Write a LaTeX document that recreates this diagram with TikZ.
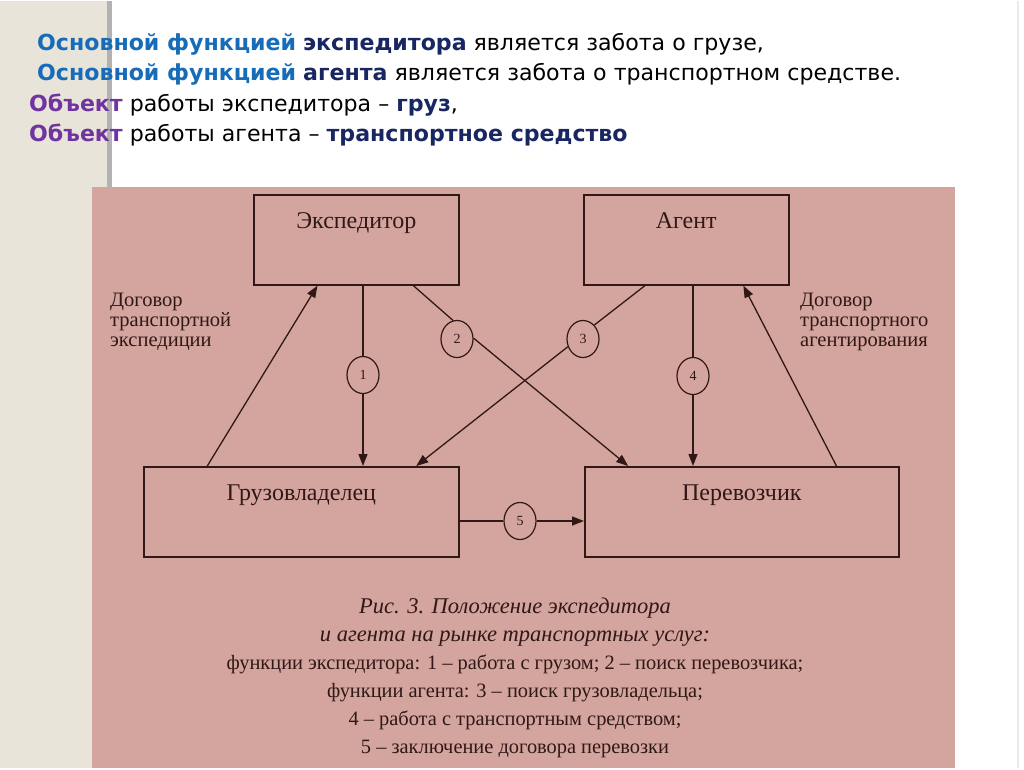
\documentclass[tikz,border=0pt]{standalone}
\usepackage{fontspec}
\setmainfont{Liberation Serif}
\newfontfamily\slidefont{DejaVu Sans}
\usetikzlibrary{arrows.meta,calc,positioning,shapes.geometric}
\definecolor{slidepink}{RGB}{212,165,158}
\definecolor{slidebeige}{RGB}{233,228,217}
\definecolor{funcblue}{RGB}{22,108,184}
\definecolor{navy}{RGB}{24,38,98}
\definecolor{objpurple}{RGB}{112,52,160}
\definecolor{ink}{RGB}{48,24,22}
\newcommand{\fblue}[1]{\textbf{\textcolor{funcblue}{#1}}}
\newcommand{\fnavy}[1]{\textbf{\textcolor{navy}{#1}}}
\newcommand{\fobj}[1]{\textbf{\textcolor{objpurple}{#1}}}

\begin{document}
\begin{tikzpicture}[x=1pt, y=-1pt,
    party/.style={draw=ink, line width=1.6pt, anchor=north west, inner sep=0pt,
        text=ink, text height=34pt, text depth=56pt, font=\fontsize{24}{24}\selectfont},
    num/.style={ellipse, draw=ink, line width=1.2pt, inner sep=0pt,
        minimum width=32pt, minimum height=37pt, text=ink, font=\fontsize{14}{14}\selectfont},
    link/.style={draw=ink, line width=1.3pt},
    arr/.style={link, -{Triangle[length=12pt, width=9pt]}},
    contract/.style={anchor=north west, align=left, inner sep=0pt, text=ink,
        font=\fontsize{20.5}{20}\selectfont},
    slide/.style={anchor=base west, inner sep=0pt, font=\slidefont\fontsize{22.1}{22.1}\selectfont}]
    % slide background
    \fill[white] (0,0) rectangle (1024,767);
    \fill[slidebeige] (0,0) rectangle (107,767);
    \fill[black!30] (107,0) rectangle (112,767);
    \draw[black!8, line width=2pt] (1018,0) -- (1018,767);
    \fill[slidepink] (92,186) rectangle (955,767);

    % slide text
    \node[slide] (l1) at (37,49) {\fblue{Основной функцией} \fnavy{экспедитора} является забота о грузе,};
    \node[slide] (l2) at (37,79) {\fblue{Основной функцией} \fnavy{агента} является забота о транспортном средстве.};
    \node[slide] (l3) at (29,110) {\fobj{Объект} работы экспедитора – \fnavy{груз},};
    \node[slide] (l4) at (29,140) {\fobj{Объект} работы агента – \fnavy{транспортное средство}};

    % parties
    \node[party, minimum width=205pt] (exp) at (253,193) {Экспедитор};
    \node[party, minimum width=205pt] (agent) at (583,193) {Агент};
    \node[party, minimum width=315pt] (owner) at (143,465) {Грузовладелец};
    \node[party, minimum width=314pt] (carrier) at (584,465) {Перевозчик};

    % functions
    \node[num] (n1) at (363,374) {1};
    \node[num] (n2) at (457,338) {2};
    \node[num] (n3) at (583,338) {3};
    \node[num] (n4) at (693,375) {4};
    \node[num] (n5) at (520,520) {5};

    \draw[link] (exp.south -| n1) -- (n1);
    \draw[arr] (n1) -- (owner.north -| n1);
    \draw[link] ($(exp.south west)!.776!(exp.south east)$) -- (n2.102);
    \draw[arr] (n2.3) -- ($(carrier.north west)!.14!(carrier.north east)$);
    \draw[link] ($(agent.south west)!.30!(agent.south east)$) -- (n3.51);
    \draw[arr] (n3.207) -- ($(owner.north west)!.863!(owner.north east)$);
    \draw[link] (agent.south -| n4) -- (n4);
    \draw[arr] (n4) -- (carrier.north -| n4);
    \draw[link] (owner.east |- n5) -- (n5);
    \draw[arr] (n5) -- (carrier.west |- n5);

    % contracts
    \draw[arr] ($(owner.north west)!.203!(owner.north east)$) -- ($(exp.south west)!.312!(exp.south east)$);
    \draw[arr] ($(carrier.north west)!.80!(carrier.north east)$) -- ($(agent.south west)!.776!(agent.south east)$);
    \node[contract] (contract1) at (110,292) {Договор\\транспортной\\экспедиции};
    \node[contract] (contract2) at (800,292) {Договор\\транспортного\\агентирования};

    % caption
    \node[anchor=north, align=center, inner sep=0pt, text=ink, font=\fontsize{20.4}{28}\selectfont]
        (caption) at (515,597) {{\fontsize{22.5}{28}\selectfont\itshape Рис. 3. Положение экспедитора}\\
        {\fontsize{22.5}{28}\selectfont\itshape и агента на рынке транспортных услуг:}\\
        функции экспедитора: 1 – работа с грузом; 2 – поиск перевозчика;\\
        функции агента: 3 – поиск грузовладельца;\\
        4 – работа с транспортным средством;\\
        5 – заключение договора перевозки};
\end{tikzpicture}
\end{document}
